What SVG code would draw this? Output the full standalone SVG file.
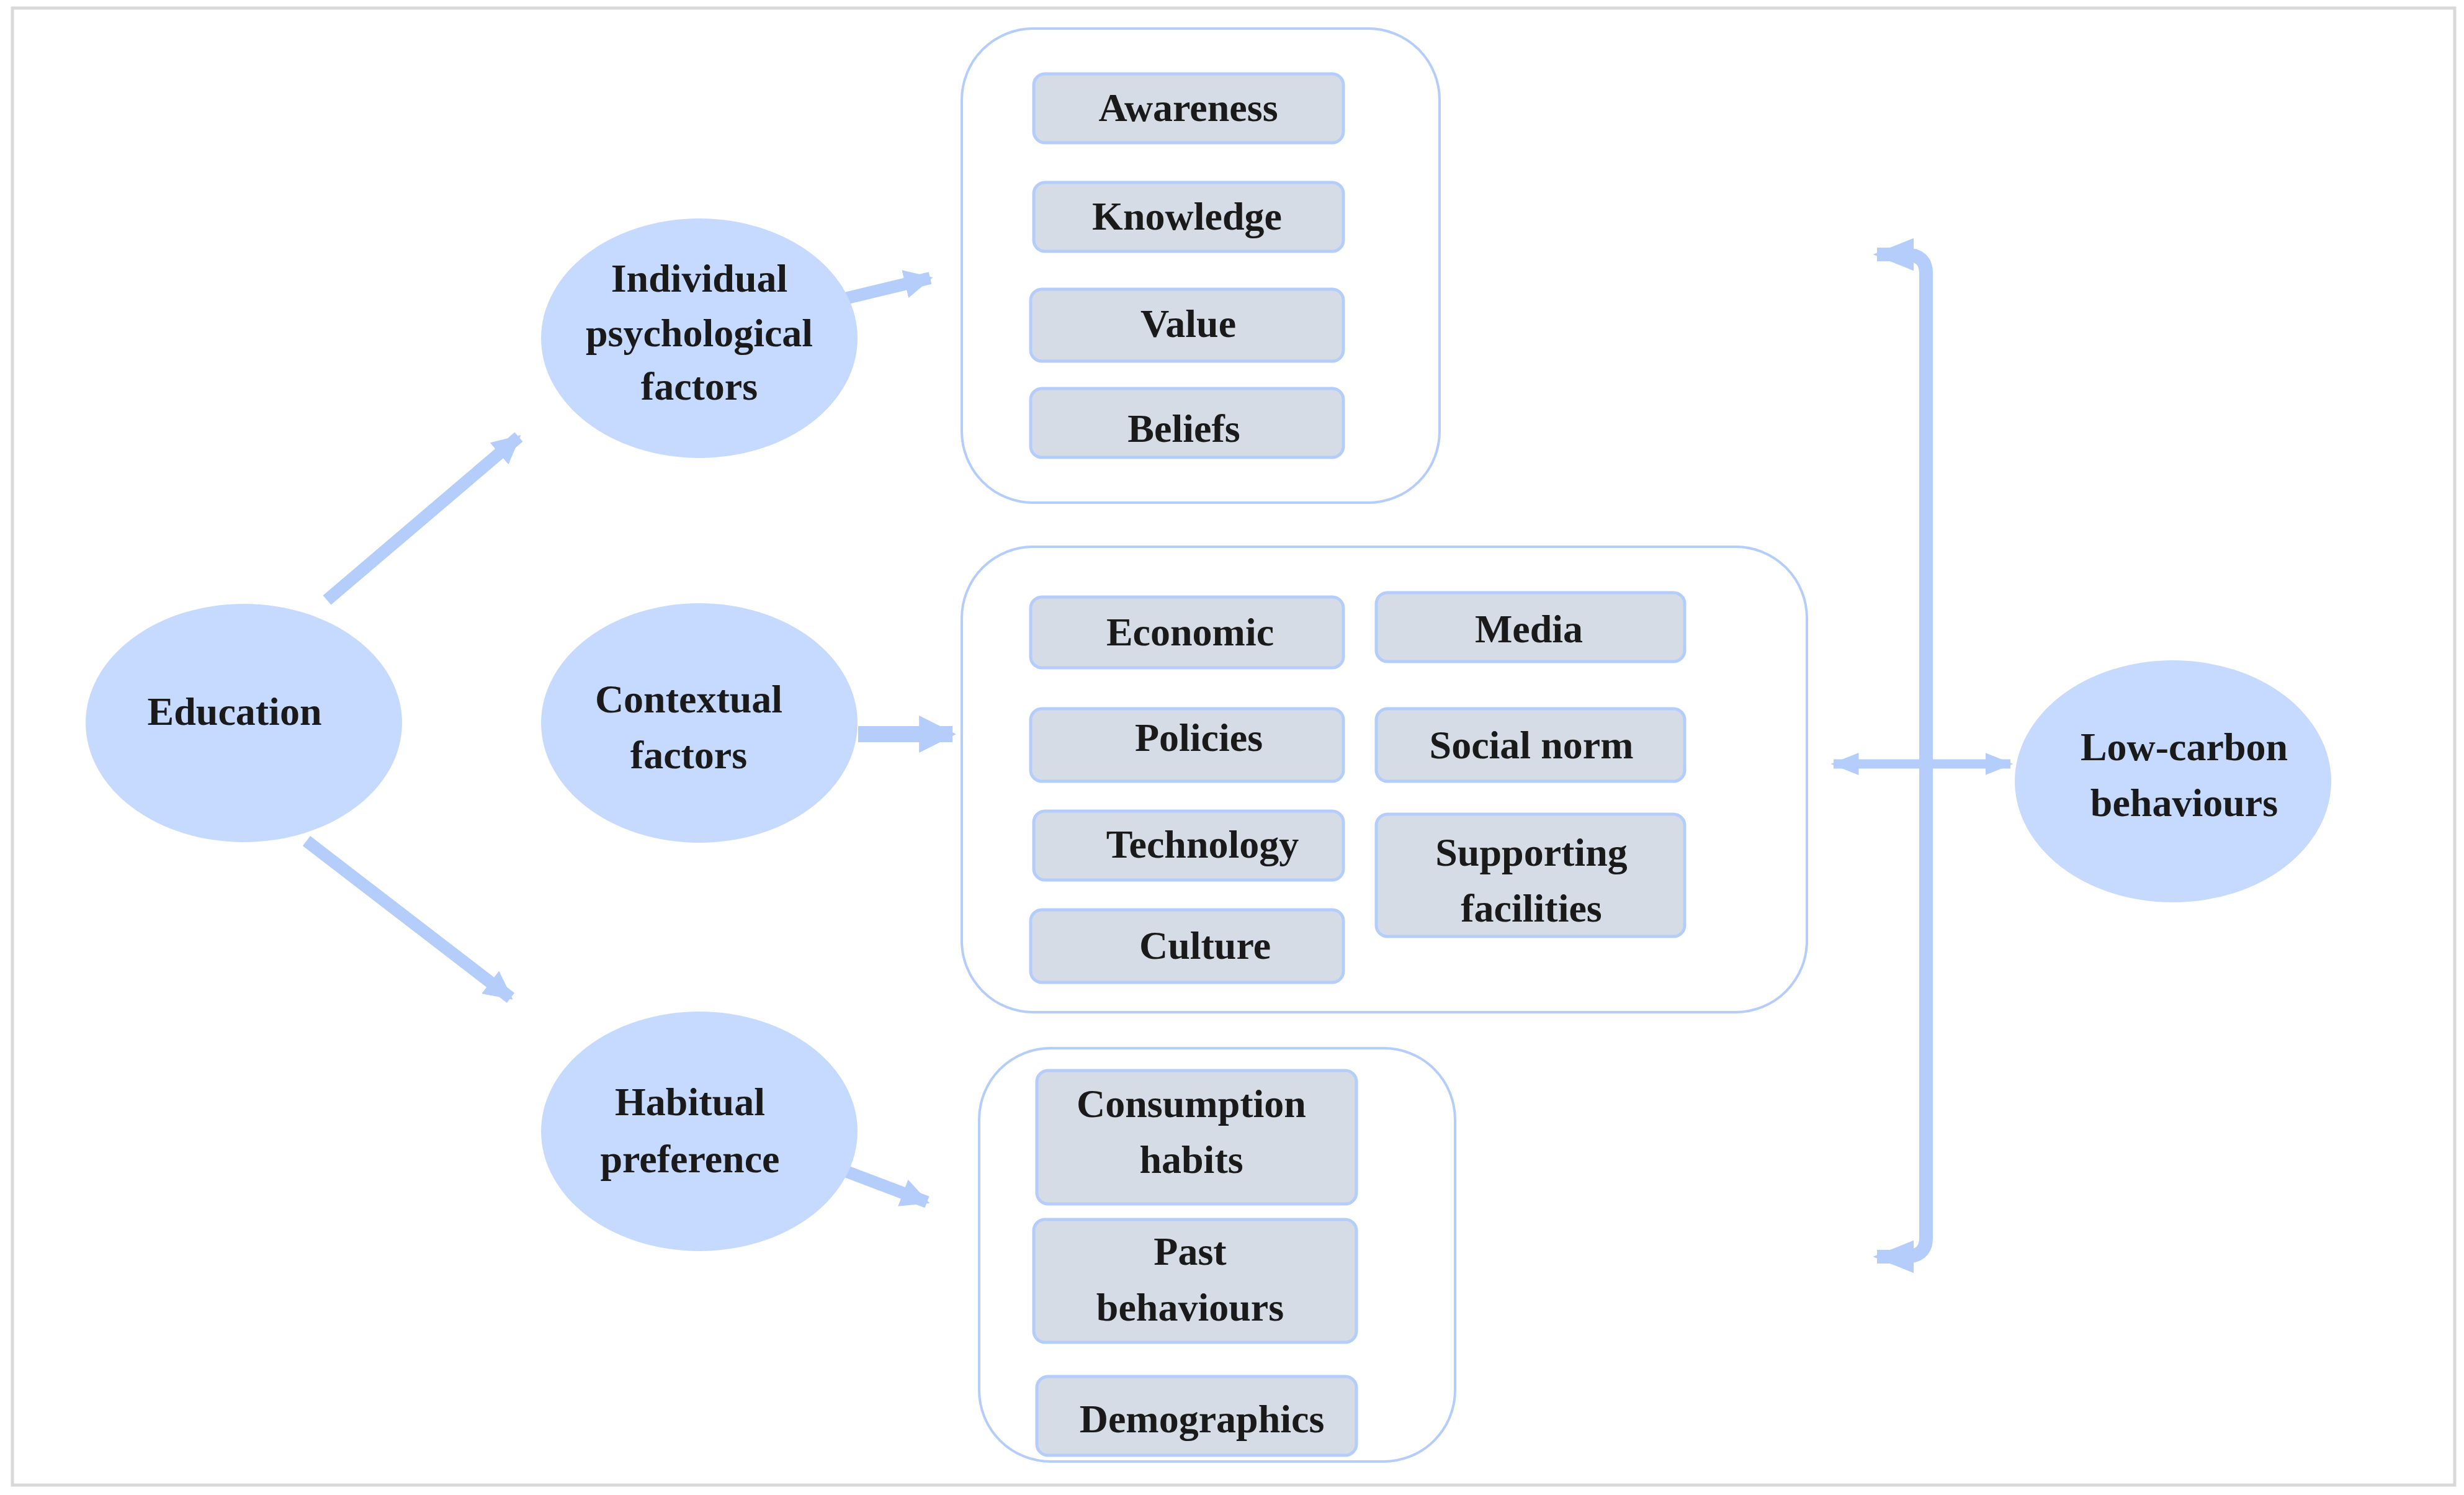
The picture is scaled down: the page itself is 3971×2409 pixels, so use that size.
<svg xmlns="http://www.w3.org/2000/svg" width="3971" height="2409" viewBox="0 0 3971 2409">
<style>
.ell{fill:#c6d9fe;stroke:none}
.grp{fill:#ffffff;stroke:#b4cdfb;stroke-width:4}
.box{fill:#d6dce5;stroke:#b4cdfb;stroke-width:5}
.t{font-family:"Liberation Serif",serif;font-weight:bold;font-size:64px;fill:#1a1a1a;text-anchor:middle}
.ar{stroke:#b4cdfb;fill:none;marker-end:url(#ah)}
</style>
<defs>
<marker id="ah" viewBox="0 0 10 10" refX="9" refY="5" markerWidth="2.3" markerHeight="2.3" orient="auto" markerUnits="strokeWidth"><path d="M0,0 L10,5 L0,10 z" fill="#b4cdfb"/></marker>
<marker id="ah2" viewBox="0 0 10 10" refX="9" refY="5" markerWidth="3" markerHeight="3" orient="auto-start-reverse" markerUnits="strokeWidth"><path d="M0,1 L10,5 L0,9 z" fill="#b4cdfb"/></marker>
</defs>
<rect x="0" y="0" width="3971" height="2409" fill="#ffffff"/>
<rect x="20" y="13" width="3936" height="2380" fill="#ffffff" stroke="#d9d9d9" stroke-width="5"/>
<g id="connectors">
<line class="ar" x1="527" y1="967" x2="836" y2="704" stroke-width="20"/>
<line class="ar" x1="494" y1="1355" x2="823" y2="1608" stroke-width="20"/>
<line class="ar" x1="1362" y1="481" x2="1499" y2="448" stroke-width="20"/>
<line class="ar" x1="1383" y1="1183" x2="1535" y2="1183" stroke-width="26"/>
<line class="ar" x1="1362" y1="1887" x2="1494" y2="1937" stroke-width="20"/>
<path d="M3025,410 H3070 Q3104,410 3104,440 V1995 Q3104,2025 3070,2025 H3025" fill="none" stroke="#b4cdfb" stroke-width="22" marker-start="url(#ah2)" marker-end="url(#ah2)"/>
<line x1="2955" y1="1231" x2="3240" y2="1231" stroke="#b4cdfb" stroke-width="15" marker-start="url(#ah2)" marker-end="url(#ah2)"/>
</g>
<g id="education"><ellipse class="ell" cx="393" cy="1165" rx="255" ry="192"/><text class="t" x="378" y="1168">Education</text></g>
<g id="individual"><ellipse class="ell" cx="1127" cy="545" rx="255" ry="193"/><text class="t" x="1127" y="470">Individual<tspan x="1127" dy="88">psychological</tspan><tspan x="1127" dy="86">factors</tspan></text></g>
<g id="contextual"><ellipse class="ell" cx="1127" cy="1165" rx="255" ry="193"/><text class="t" x="1110" y="1148">Contextual<tspan x="1110" dy="90">factors</tspan></text></g>
<g id="habitual"><ellipse class="ell" cx="1127" cy="1823" rx="255" ry="193"/><text class="t" x="1112" y="1797">Habitual<tspan x="1112" dy="92">preference</tspan></text></g>
<g id="lowcarbon"><ellipse class="ell" cx="3502" cy="1259" rx="255" ry="195"/><text class="t" x="3520" y="1225">Low-carbon<tspan x="3520" dy="90">behaviours</tspan></text></g>
<g id="group1"><rect class="grp" x="1550" y="46" width="770" height="764" rx="115"/>
<g id="awareness"><rect class="box" x="1666" y="119" width="499" height="111" rx="18"/><text class="t" x="1915" y="195">Awareness</text></g>
<g id="knowledge"><rect class="box" x="1666" y="294" width="499" height="111" rx="18"/><text class="t" x="1913" y="370">Knowledge</text></g>
<g id="value"><rect class="box" x="1661" y="466" width="504" height="116" rx="18"/><text class="t" x="1915" y="543">Value</text></g>
<g id="beliefs"><rect class="box" x="1661" y="626" width="504" height="111" rx="18"/><text class="t" x="1908" y="712">Beliefs</text></g>
</g>
<g id="group2"><rect class="grp" x="1550" y="881" width="1362" height="750" rx="115"/>
<g id="economic"><rect class="box" x="1661" y="962" width="504" height="114" rx="18"/><text class="t" x="1918" y="1040">Economic</text></g>
<g id="media"><rect class="box" x="2218" y="955" width="497" height="111" rx="18"/><text class="t" x="2464" y="1035">Media</text></g>
<g id="policies"><rect class="box" x="1661" y="1142" width="504" height="117" rx="18"/><text class="t" x="1932" y="1210">Policies</text></g>
<g id="socialnorm"><rect class="box" x="2218" y="1142" width="497" height="117" rx="18"/><text class="t" x="2468" y="1222">Social norm</text></g>
<g id="technology"><rect class="box" x="1666" y="1307" width="499" height="111" rx="18"/><text class="t" x="1938" y="1382">Technology</text></g>
<g id="supporting"><rect class="box" x="2218" y="1312" width="497" height="197" rx="18"/><text class="t" x="2468" y="1395">Supporting<tspan x="2468" dy="90">facilities</tspan></text></g>
<g id="culture"><rect class="box" x="1661" y="1466" width="504" height="117" rx="18"/><text class="t" x="1942" y="1545">Culture</text></g>
</g>
<g id="group3"><rect class="grp" x="1578" y="1689" width="767" height="666" rx="115"/>
<g id="consumption"><rect class="box" x="1671" y="1725" width="515" height="215" rx="18"/><text class="t" x="1920" y="1800">Consumption<tspan x="1920" dy="90">habits</tspan></text></g>
<g id="past"><rect class="box" x="1666" y="1965" width="520" height="198" rx="18"/><text class="t" x="1918" y="2038">Past<tspan x="1918" dy="90">behaviours</tspan></text></g>
<g id="demographics"><rect class="box" x="1671" y="2218" width="515" height="127" rx="18"/><text class="t" x="1937" y="2308">Demographics</text></g>
</g>
</svg>
